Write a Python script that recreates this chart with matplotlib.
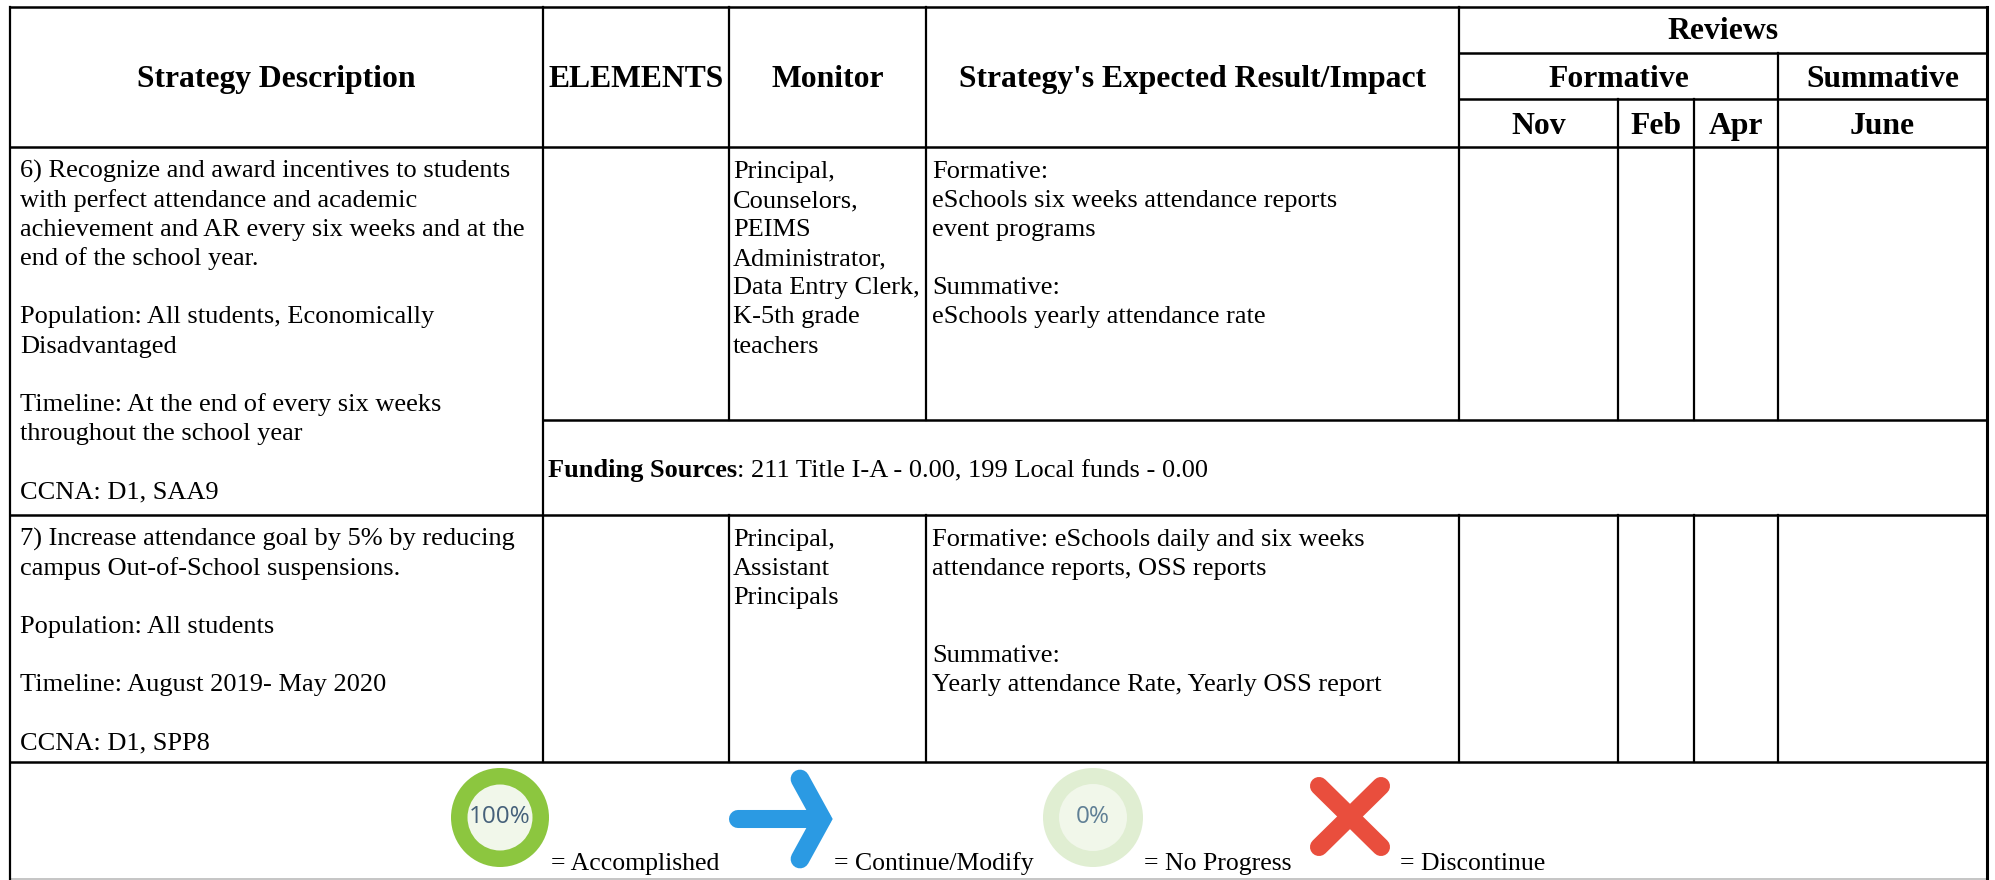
import matplotlib
matplotlib.use("Agg")
import matplotlib.pyplot as plt
from matplotlib.patches import Ellipse

plt.rcParams['font.family'] = ['Liberation Serif', 'DejaVu Serif']

col_edges = [10, 543, 729, 926, 1459, 1618, 1694, 1778, 1987]
row_edges = [7, 53, 99, 147, 420, 515, 762, 879]

strategy_6 = ["6) Recognize and award incentives to students",
              "with perfect attendance and academic",
              "achievement and AR every six weeks and at the",
              "end of the school year.",
              "",
              "Population: All students, Economically",
              "Disadvantaged",
              "",
              "Timeline: At the end of every six weeks",
              "throughout the school year",
              "",
              "CCNA: D1, SAA9"]
monitor_6 = ["Principal,", "Counselors,", "PEIMS", "Administrator,",
             "Data Entry Clerk,", "K-5th grade", "teachers"]
result_6 = ["Formative:", "eSchools six weeks attendance reports", "event programs",
            "", "Summative:", "eSchools yearly attendance rate"]
funding_label = "Funding Sources"
funding_text = ": 211 Title I-A - 0.00, 199 Local funds - 0.00"
strategy_7 = ["7) Increase attendance goal by 5% by reducing",
              "campus Out-of-School suspensions.",
              "",
              "Population: All students",
              "",
              "Timeline: August 2019- May 2020",
              "",
              "CCNA: D1, SPP8"]
monitor_7 = ["Principal,", "Assistant", "Principals"]
result_7 = ["Formative: eSchools daily and six weeks",
            "attendance reports, OSS reports",
            "", "",
            "Summative:",
            "Yearly attendance Rate, Yearly OSS report"]
legend_labels = ["= Accomplished", "= Continue/Modify", "= No Progress", "= Discontinue"]
headers = ["Strategy Description", "ELEMENTS", "Monitor", "Strategy's Expected Result/Impact"]
months = ["Nov", "Feb", "Apr", "June"]

BODY = 19
LEGEND = 18.5
HEAD = 22.8
LINE = 29.1
INK = "black"

fig = plt.figure(figsize=(19.95, 8.8), dpi=100)
ax = fig.add_axes([0, 0, 1, 1])
ax.set_xlim(0, 1995)
ax.set_ylim(880, 0)
ax.axis("off")


def hline(y, x0, x1, lw=1.8):
    ax.plot([x0, x1], [y, y], color=INK, lw=lw, solid_capstyle="projecting")


def vline(x, y0, y1, lw=1.6):
    ax.plot([x, x], [y0, y1], color=INK, lw=lw, solid_capstyle="projecting")


def block(lines, x, y):
    for i, line in enumerate(lines):
        ax.text(x, y + i * LINE, line, fontsize=BODY, color="black", ha="left", va="baseline")


def head(label, x0, x1, y):
    ax.text((x0 + x1) / 2, y, label, fontsize=HEAD, fontweight="bold", color="black",
            ha="center", va="baseline")


c = col_edges
r = row_edges

# table grid
hline(r[0], c[0], c[8])
hline(r[1], c[4], c[8])
hline(r[2], c[4], c[8])
hline(r[3], c[0], c[8])
hline(r[4], c[1], c[8])
hline(r[5], c[0], c[8])
hline(r[6], c[0], c[8])
ax.plot([c[0], c[8]], [r[7], r[7]], color="#bbbbbb", lw=1.2)

vline(c[0], r[0], r[7])
vline(c[8], r[0], r[7], lw=2.2)
vline(c[1], r[0], r[6])
for x in c[2:5]:
    vline(x, r[0], r[4])
    vline(x, r[5], r[6])
for x in [c[5], c[6]]:
    vline(x, r[2], r[4])
    vline(x, r[5], r[6])
vline(c[7], r[1], r[4])
vline(c[7], r[5], r[6])

# header text
for i, label in enumerate(headers):
    head(label, c[i], c[i + 1], 87)
head("Reviews", c[4], c[8], 39)
head("Formative", c[4], c[7], 87)
head("Summative", c[7], c[8], 87)
for i, label in enumerate(months):
    head(label, c[4 + i], c[5 + i], 134)

# body text
block(strategy_6, 20, 178)
block(monitor_6, 733, 178)
block(result_6, 932, 178)
block(strategy_7, 20, 546)
block(monitor_7, 733, 546)
block(result_7, 932, 546)

t = ax.text(548, 477, funding_label, fontsize=BODY, fontweight="bold", color="black", va="baseline")
fig.canvas.draw()
w = t.get_window_extent(fig.canvas.get_renderer()).width
ax.text(548 + w, 477, funding_text, fontsize=BODY, color="black", va="baseline")

# legend icons
ax.add_patch(Ellipse((500, 817.5), 98, 99, fc="#8CC63F", ec="none"))
ax.add_patch(Ellipse((500, 817.5), 65, 66, fc="#F1F7EA", ec="none"))
ax.text(500, 817, "100%", fontsize=17.5, family="Open Sans", color="#45607A", ha="center", va="center")

ax.plot([738, 822], [819, 819], color="#2B9AE3", lw=13, solid_capstyle="round")
ax.plot([800, 822, 800], [779, 819, 859], color="#2B9AE3", lw=13.5, solid_capstyle="round",
        solid_joinstyle="miter")

ax.add_patch(Ellipse((1093, 817.5), 100, 99, fc="#E0EED2", ec="none"))
ax.add_patch(Ellipse((1093, 817.5), 68, 67, fc="#F1F7EA", ec="none"))
ax.text(1093, 817, "0%", fontsize=17.5, family="Open Sans", color="#5F7F95", ha="center", va="center")

ax.plot([1319, 1381], [786, 847], color="#E94E3D", lw=13, solid_capstyle="round")
ax.plot([1319, 1381], [847, 786], color="#E94E3D", lw=13, solid_capstyle="round")

for x, label in zip([551, 834, 1144, 1400], legend_labels):
    ax.text(x, 870, label, fontsize=LEGEND, color="black", ha="left", va="baseline")

fig.savefig("out.png", dpi=100)
